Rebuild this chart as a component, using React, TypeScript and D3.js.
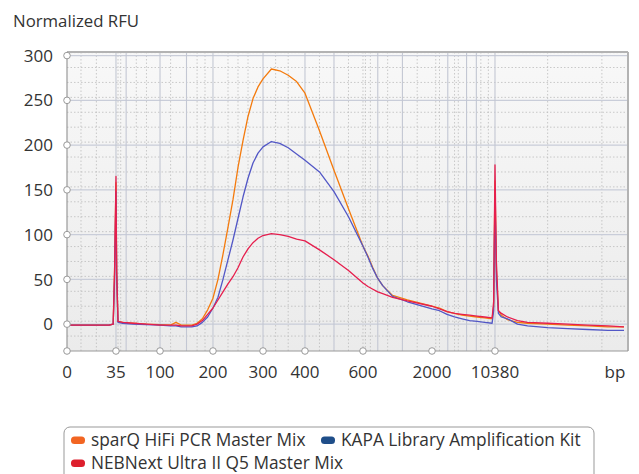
import * as d3 from 'd3';

// sample positions (bp) and normalized fluorescence for each kit
const BP = [0, 10, 20, 30, 33, 34, 35, 36, 38, 45,
  60, 80, 100, 120, 130, 140, 160, 170, 180, 190,
  200, 210, 220, 230, 240, 250, 260, 270, 280, 290,
  300, 320, 340, 360, 380, 400, 450, 500, 550, 600,
  700, 800, 900, 1000, 1200, 1500, 2000, 3000, 4000, 5000,
  6000, 7000, 8000, 9000, 10000, 10200, 10300, 10380, 10450, 10550,
  10700, 11000, 11500, 12000, 13000, 14000, 15000, 16000, 16800];

const SPARQ = [-1, -1, -1, -1, 0, 60, 158, 60, 3, 2,
  1, 0, -0.5, -1, 2, -1, -1, 1, 6, 16,
  29, 50, 78, 108, 139, 175, 205, 232, 252, 265,
  274, 285, 283, 278, 271, 258, 216, 172, 129, 87,
  76, 63, 51, 43, 32, 27, 20, 18, 14, 12,
  10, 9, 8, 7, 6, 20, 100, 160, 60, 15,
  10, 5, 2, 1, 0, -1, -2, -3, -3];

const KAPA = [-1, -1, -1, -1, 0, 50, 148, 55, 2, 1,
  0, -0.5, -1, -2, -2, -3, -3, -2, 2, 8,
  18, 30, 50, 72, 94, 118, 142, 163, 180, 191,
  198, 204, 202, 197, 190, 183, 170, 148, 120, 87,
  75, 62, 51, 43, 31, 25, 17, 15, 11, 8,
  6, 4, 3, 2, 1, 15, 90, 140, 50, 12,
  8, 6, 0, -2, -4, -5, -6, -7, -7];

const NEB = [-1, -1, -1, -1, 0, 60, 165, 60, 3, 2,
  1, 0, -1, -1, -1, -2, -2, 0, 4, 11,
  18, 27, 36, 45, 53, 63, 75, 84, 91, 96,
  99, 101, 100, 98, 95, 93, 83, 72, 60, 46,
  42, 39, 36, 34, 30, 26, 20, 17, 14, 12,
  11, 10, 9, 8, 7, 25, 110, 178, 70, 15,
  12, 8, 4, 2, 1, 0, -1, -2, -3];

const SERIES = [
  { name: 'sparQ HiFi PCR Master Mix', line: '#f47a0c', swatch: '#f26522', values: SPARQ },
  { name: 'KAPA Library Amplification Kit', line: '#5257c6', swatch: '#1f4e89', values: KAPA },
  { name: 'NEBNext Ultra II Q5 Master Mix', line: '#e61e4d', swatch: '#dd1f2d', values: NEB },
];

// ladder-calibrated x axis: labelled sizes and where they sit along the axis
const X_TICKS = [0, 35, 100, 200, 300, 400, 600, 2000, 10380];
const X_KNOTS = [0, 35, 100, 200, 300, 400, 600, 2000, 10380, 17000];
const X_KNOT_FRAC = [0, 0.0873, 0.1658, 0.2602, 0.3494, 0.4242, 0.5276, 0.6506, 0.7629, 1];
const X_MAJOR_GRID = [35, 50, 100, 150, 200, 300, 400, 500, 900, 1400, 4100, 6600, 7900, 10380];
const X_MINOR_GRID = [10, 21, 38, 42, 65, 80, 120, 170, 185, 230, 250, 270, 330, 360, 450, 550,
  600, 650, 750, 1100, 1700, 2500, 3000, 5000, 5500, 8500, 9500, 13000, 15700];
const Y_TICKS = [0, 50, 100, 150, 200, 250, 300];

const W = 639;
const H = 474;
const M = { left: 67, right: 628, top: 52, bottom: 351 };
const FONT = '"Open Sans", "Noto Sans", sans-serif';

export default function App() {
  const x = d3.scaleLinear()
    .domain(X_KNOTS)
    .range(X_KNOT_FRAC.map(f => M.left + f * (M.right - M.left)));
  const y = d3.scaleLinear().domain([-30, 304]).range([M.bottom, M.top]);

  const line = d3.line<number>()
    .x((_, i) => x(BP[i]))
    .y(d => y(d));

  const yMinor = d3.range(-30, 304, 50 / 3).map(v => Math.round(v * 100) / 100)
    .filter(v => Math.abs(v % 50) > 1 && v > -30);

  // legend slots: [swatch x, row centre y]
  const legendPos = [[71, 440], [321, 440], [71, 463]];

  return (
    <svg width={W} height={H} style={{ position: 'absolute', left: 0, top: 0, background: '#fff' }}
      fontFamily={FONT}>
      <defs>
        <linearGradient id="bg" x1="0" y1="0" x2="0" y2="1">
          <stop offset="0" stopColor="#f8f8f8" />
          <stop offset="1" stopColor="#ebebeb" />
        </linearGradient>
        <clipPath id="plot">
          <rect x={M.left} y={M.top} width={M.right - M.left} height={M.bottom - M.top} />
        </clipPath>
      </defs>

      <text x={13} y={27} fontSize={16.8} fill="#333">Normalized RFU</text>

      <rect x={M.left} y={M.top} width={M.right - M.left} height={M.bottom - M.top} fill="url(#bg)" />

      <g clipPath="url(#plot)">
        {yMinor.map(v => (
          <line key={'ym' + v} x1={M.left} x2={M.right} y1={y(v)} y2={y(v)}
            stroke="#bdbdbd" strokeWidth={0.8} strokeDasharray="1.5 2" />
        ))}
        {X_MINOR_GRID.map(v => (
          <line key={'xm' + v} x1={x(v)} x2={x(v)} y1={M.top} y2={M.bottom}
            stroke="#bdbdbd" strokeWidth={0.8} strokeDasharray="1.5 2" />
        ))}
        {Y_TICKS.map(v => (
          <line key={'yg' + v} x1={M.left} x2={M.right} y1={y(v)} y2={y(v)}
            stroke="#c9cdd9" strokeWidth={1.2} />
        ))}
        {X_MAJOR_GRID.map(v => (
          <line key={'xg' + v} x1={x(v)} x2={x(v)} y1={M.top} y2={M.bottom}
            stroke="#c3c7d3" strokeWidth={1.1} />
        ))}
        {SERIES.map(s => (
          <path key={s.name} d={line(s.values) ?? ''} fill="none" stroke={s.line}
            strokeWidth={1.3} strokeLinejoin="round" />
        ))}
      </g>

      {/* frame */}
      <line x1={M.left} x2={M.right} y1={M.top} y2={M.top} stroke="#b3b3b3" strokeWidth={2} />
      <line x1={M.right} x2={M.right} y1={M.top} y2={M.bottom} stroke="#b3b3b3" strokeWidth={2} />
      <line x1={M.left} x2={M.left} y1={M.top} y2={M.bottom} stroke="#999" strokeWidth={1.2} />
      <line x1={M.left} x2={M.right} y1={M.bottom} y2={M.bottom} stroke="#999" strokeWidth={1.2} />

      {Y_TICKS.map(v => (
        <g key={'yt' + v}>
          <circle cx={M.left} cy={y(v)} r={3.3} fill="#fff" stroke="#999" strokeWidth={1} />
          <text x={53} y={y(v)} dy="0.36em" textAnchor="end" fontSize={17} fill="#333">{v}</text>
        </g>
      ))}
      {X_TICKS.map(v => (
        <g key={'xt' + v}>
          <circle cx={x(v)} cy={M.bottom} r={3.3} fill="#fff" stroke="#999" strokeWidth={1} />
          <text x={x(v)} y={378} textAnchor="middle" fontSize={17} fill="#333">{v}</text>
        </g>
      ))}
      <text x={615} y={378} textAnchor="middle" fontSize={17} fill="#333">bp</text>

      {/* legend */}
      <rect x={64} y={427} width={530} height={60} rx={6} fill="#fff" stroke="#999" strokeWidth={1} />
      {SERIES.map((s, i) => {
        const [lx, ly] = legendPos[i];
        return (
          <g key={'lg' + s.name}>
            <rect x={lx} y={ly - 3.5} width={14} height={7.5} rx={3.5} fill={s.swatch} />
            <text x={lx + 20} y={ly} dy="0.36em" fontSize={17.3} fill="#333">{s.name}</text>
          </g>
        );
      })}
    </svg>
  );
}
